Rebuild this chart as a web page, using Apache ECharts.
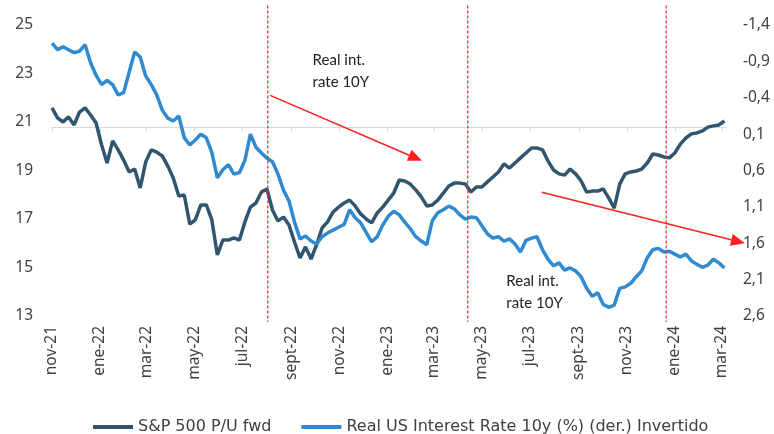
<!DOCTYPE html>
<html>
<head>
<meta charset="utf-8">
<script src="https://cdn.jsdelivr.net/npm/echarts@6/dist/echarts.min.js"></script>
<style>
html, body { margin: 0; padding: 0; background: #fff; }
#chart { width: 774px; height: 434px; }
</style>
</head>
<body>
<div id="chart"></div>
<script>
// weekly readings, first one on 1 nov 2021
var startDate = [2021, 10, 1];
var stepDays = 7;

var peFwd = [
    21.58, 21.17, 21.0, 21.21, 20.88, 21.41, 21.58, 21.29, 20.96, 20.05,
    19.31, 20.22, 19.85, 19.43, 18.94, 19.06, 18.28, 19.35, 19.85, 19.76,
    19.60, 19.19, 18.69, 17.95, 17.99, 16.79, 16.96, 17.58, 17.58, 16.96,
    15.52, 16.13, 16.13, 16.22, 16.13, 16.88, 17.49, 17.66, 18.11, 18.24,
    17.37, 16.92, 17.08, 16.75, 16.05, 15.39, 15.85, 15.35, 15.93, 16.63,
    16.88, 17.29, 17.49, 17.66, 17.78, 17.54, 17.21, 17.00, 16.84, 17.25,
    17.49, 17.78, 18.07, 18.61, 18.57, 18.44, 18.20, 17.91, 17.54, 17.58,
    17.78, 18.07, 18.36, 18.48, 18.48, 18.44, 18.11, 18.32, 18.32, 18.53,
    18.73, 18.94, 19.27, 19.10, 19.31, 19.52, 19.72, 19.93, 19.93, 19.85,
    19.39, 19.02, 18.86, 18.81, 19.06, 18.86, 18.57, 18.11, 18.15, 18.15,
    18.24, 17.87, 17.45, 18.44, 18.86, 18.94, 18.98, 19.06, 19.31, 19.68,
    19.64, 19.56, 19.52, 19.72, 20.09, 20.34, 20.51, 20.55, 20.63, 20.79,
    20.84, 20.88, 21.04
];

var realRate = [
    -1.15, -1.06, -1.10, -1.06, -1.02, -1.04, -1.13, -0.88, -0.71, -0.58,
    -0.64, -0.58, -0.44, -0.47, -0.75, -1.03, -0.96, -0.70, -0.58, -0.44,
    -0.23, -0.12, -0.08, -0.15, 0.15, 0.25, 0.18, 0.10, 0.15, 0.35,
    0.70, 0.59, 0.52, 0.65, 0.63, 0.46, 0.10, 0.28, 0.36, 0.43,
    0.48, 0.65, 0.87, 1.02, 1.31, 1.54, 1.50, 1.57, 1.61, 1.51,
    1.46, 1.42, 1.38, 1.34, 1.14, 1.25, 1.32, 1.45, 1.58, 1.51,
    1.35, 1.23, 1.16, 1.21, 1.31, 1.40, 1.51, 1.57, 1.62, 1.29,
    1.18, 1.14, 1.09, 1.13, 1.21, 1.27, 1.24, 1.25, 1.36, 1.47,
    1.53, 1.51, 1.57, 1.54, 1.61, 1.72, 1.56, 1.53, 1.51, 1.69,
    1.82, 1.91, 1.87, 1.97, 1.94, 1.98, 2.06, 2.22, 2.33, 2.28,
    2.44, 2.48, 2.45, 2.22, 2.20, 2.15, 2.06, 1.98, 1.80, 1.69,
    1.67, 1.72, 1.71, 1.75, 1.79, 1.75, 1.84, 1.89, 1.93, 1.90,
    1.82, 1.87, 1.94
];

var seriesNames = ['S&P 500 P/U fwd', 'Real US Interest Rate 10y (%) (der.) Invertido'];
var leftTicks = [13, 15, 17, 19, 21, 23, 25];
var rightTicks = [-1.4, -0.9, -0.4, 0.1, 0.6, 1.1, 1.6, 2.1, 2.6];
var monthNames = ['ene', 'feb', 'mar', 'abr', 'may', 'jun', 'jul', 'ago', 'sept', 'oct', 'nov', 'dic'];

// annotations (date, left axis value)
var eventDates = [[2022, 7, 2], [2023, 3, 13], [2023, 11, 21]];
var arrows = [
    { from: [[2022, 7, 5], 22.1], to: [[2023, 1, 14], 19.4] },
    { from: [[2023, 6, 16], 18.1], to: [[2024, 2, 30], 16.0] }
];
var notes = [
    { at: [[2022, 8, 28], 24.0], text: 'Real int.\nrate 10Y' },
    { at: [[2023, 5, 1], 14.9], text: 'Real int.\nrate 10Y' }
];

function toTime(d) {
    return new Date(d[0], d[1], d[2]).getTime();
}

function dateAt(i) {
    return new Date(startDate[0], startDate[1], startDate[2] + i * stepDays).getTime();
}

// labels on the 1st of every other month, nov-21 .. mar-24
var xTicks = [];
for (var m = 0; m <= 28; m += 2) {
    xTicks.push(new Date(2021, 10 + m, 1).getTime());
}

var fontFam = 'Noto Sans';
var textCol = '#404040';

var chart = echarts.init(document.getElementById('chart'));

var option = {
    animation: false,
    grid: { left: 52, right: 48, top: 25, bottom: 118 },
    legend: {
        top: 414,
        left: 88,
        icon: 'rect',
        itemWidth: 40,
        itemHeight: 4,
        itemGap: 30,
        textStyle: { fontFamily: 'DejaVu Sans', fontSize: 16, color: textCol },
        data: seriesNames
    },
    xAxis: {
        type: 'value',
        min: toTime([2021, 10, 1]),
        max: toTime([2024, 2, 6]),
        splitLine: { show: false },
        axisLine: { lineStyle: { color: '#d9d9d9', width: 1 } },
        axisTick: { show: true, length: 5, customValues: xTicks, lineStyle: { color: '#d9d9d9' } },
        axisLabel: {
            customValues: xTicks,
            rotate: 90,
            margin: 10,
            fontFamily: fontFam,
            fontSize: 15.5,
            color: textCol,
            formatter: function(v) {
                var d = new Date(v);
                return monthNames[d.getMonth()] + '-' + String(d.getFullYear()).slice(2);
            }
        }
    },
    yAxis: [{
        type: 'value',
        min: 13,
        max: 25,
        splitLine: { show: false },
        axisLine: { show: false },
        axisTick: { show: false },
        axisLabel: {
            customValues: leftTicks,
            margin: 19,
            fontFamily: fontFam,
            fontSize: 15.5,
            color: textCol
        }
    }, {
        type: 'value',
        min: -1.4,
        max: 2.6,
        inverse: true,
        splitLine: { show: false },
        axisLine: { show: false },
        axisTick: { show: false },
        axisLabel: {
            customValues: rightTicks,
            margin: 17,
            fontFamily: fontFam,
            fontSize: 15.5,
            color: textCol,
            formatter: function(v) {
                return v.toFixed(1).replace('.', ',');
            }
        }
    }],
    series: [{
        name: seriesNames[0],
        type: 'line',
        yAxisIndex: 0,
        showSymbol: false,
        color: '#30566f',
        lineStyle: { width: 3.5, color: '#30566f' },
        data: peFwd.map(function(v, i) { return [dateAt(i), v]; })
    }, {
        name: seriesNames[1],
        type: 'line',
        yAxisIndex: 1,
        showSymbol: false,
        color: '#2f8ad0',
        lineStyle: { width: 3.5, color: '#2f8ad0' },
        data: realRate.map(function(v, i) { return [dateAt(i), v]; })
    }]
};
chart.setOption(option);

// red dashed event lines, arrows and notes
function px(d, v) {
    return chart.convertToPixel({ seriesIndex: 0 }, [toTime(d), v]);
}

var gfx = [];
eventDates.forEach(function(d) {
    var top = px(d, 25.8), bot = px(d, 12.75);
    gfx.push({
        type: 'line',
        shape: { x1: top[0], y1: top[1], x2: bot[0], y2: bot[1] },
        style: { stroke: '#ff1f1f', lineWidth: 1.2, lineDash: [3, 2] },
        z: 100
    });
});

arrows.forEach(function(a) {
    var p1 = px(a.from[0], a.from[1]), p2 = px(a.to[0], a.to[1]);
    var dx = p2[0] - p1[0], dy = p2[1] - p1[1];
    var len = Math.sqrt(dx * dx + dy * dy);
    var ux = dx / len, uy = dy / len;
    var bx = p2[0] - ux * 14, by = p2[1] - uy * 14;
    gfx.push({
        type: 'line',
        shape: { x1: p1[0], y1: p1[1], x2: bx, y2: by },
        style: { stroke: '#ff1f1f', lineWidth: 1.5 },
        z: 100
    });
    gfx.push({
        type: 'polygon',
        shape: { points: [[p2[0], p2[1]], [bx - uy * 6, by + ux * 6], [bx + uy * 6, by - ux * 6]] },
        style: { fill: '#ff1f1f' },
        z: 100
    });
});

notes.forEach(function(n) {
    var p = px(n.at[0], n.at[1]);
    gfx.push({
        type: 'text',
        x: p[0],
        y: p[1],
        style: {
            text: n.text,
            fontFamily: 'Lato',
            fontSize: 15,
            lineHeight: 22,
            fill: '#222',
            verticalAlign: 'top'
        },
        z: 100
    });
});

chart.setOption({ graphic: gfx });
</script>
</body>
</html>
